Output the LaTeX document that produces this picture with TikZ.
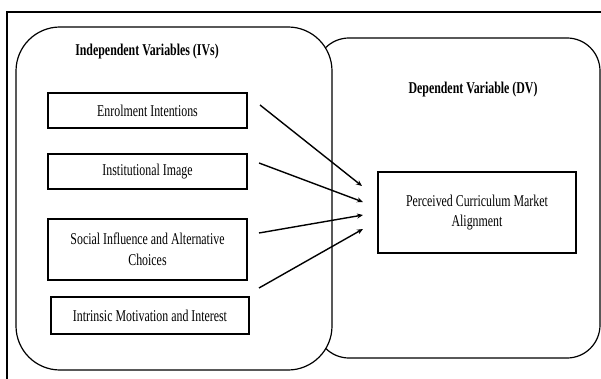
\documentclass[tikz,border=0pt]{standalone}
\usepackage{fontspec}
\setmainfont[FakeStretch=0.72]{Liberation Serif}
\usetikzlibrary{arrows.meta}
\begin{document}
\begin{tikzpicture}[x=1pt,y=-1pt,
  varbox/.style={draw, line width=1.6pt, inner sep=0pt, align=center,
    font=\fontsize{16.5}{20.5}\selectfont},
  group/.style={draw, line width=1.2pt, fill=white, inner sep=0pt},
  grouptitle/.style={font=\fontsize{16.5}{18}\selectfont\bfseries},
  link/.style={line width=1.4pt, -{Stealth[length=6pt,width=5pt]}}]
\useasboundingbox (0,0) rectangle (601,379);
% outer frame
\draw[line width=1.5pt] (7,379) -- (7,12) -- (601,12);
% group containers
\node[group, rounded corners=33pt, minimum width=284pt, minimum height=320pt] (dvg) at (458,198) {};
\node[group, rounded corners=44pt, minimum width=316pt, minimum height=343pt] (ivg) at (174,198.5) {};
% titles
\node[grouptitle] (ivt) at (147,52) {Independent Variables (IVs)};
\node[grouptitle] (dvt) at (473,90) {Dependent Variable (DV)};
% independent variables
\node[varbox, minimum width=199pt, minimum height=35pt] (ei) at (147.5,110.5) {Enrolment Intentions};
\node[varbox, minimum width=199pt, minimum height=35pt] (ii) at (147.5,171.5) {Institutional Image};
\node[varbox, minimum width=199pt, minimum height=61pt] (si) at (147.5,249.5) {Social Influence and Alternative\\Choices};
\node[varbox, minimum width=198pt, minimum height=37pt] (im) at (150,315.5) {Intrinsic Motivation and Interest};
% dependent variable
\node[varbox, minimum width=198pt, minimum height=81pt] (pc) at (477,212.5) {Perceived Curriculum Market\\Alignment};
% arrow endpoints
\coordinate (s1) at (260,105);
\coordinate (s2) at (259,163);
\coordinate (s3) at (259,233);
\coordinate (s4) at (259,288);
\coordinate (t1) at (362,186);
\coordinate (t2) at (363,202);
\coordinate (t3) at (363,215);
\coordinate (t4) at (363,229);
\draw[link] (s1) -- (t1);
\draw[link] (s2) -- (t2);
\draw[link] (s3) -- (t3);
\draw[link] (s4) -- (t4);
\end{tikzpicture}
\end{document}
